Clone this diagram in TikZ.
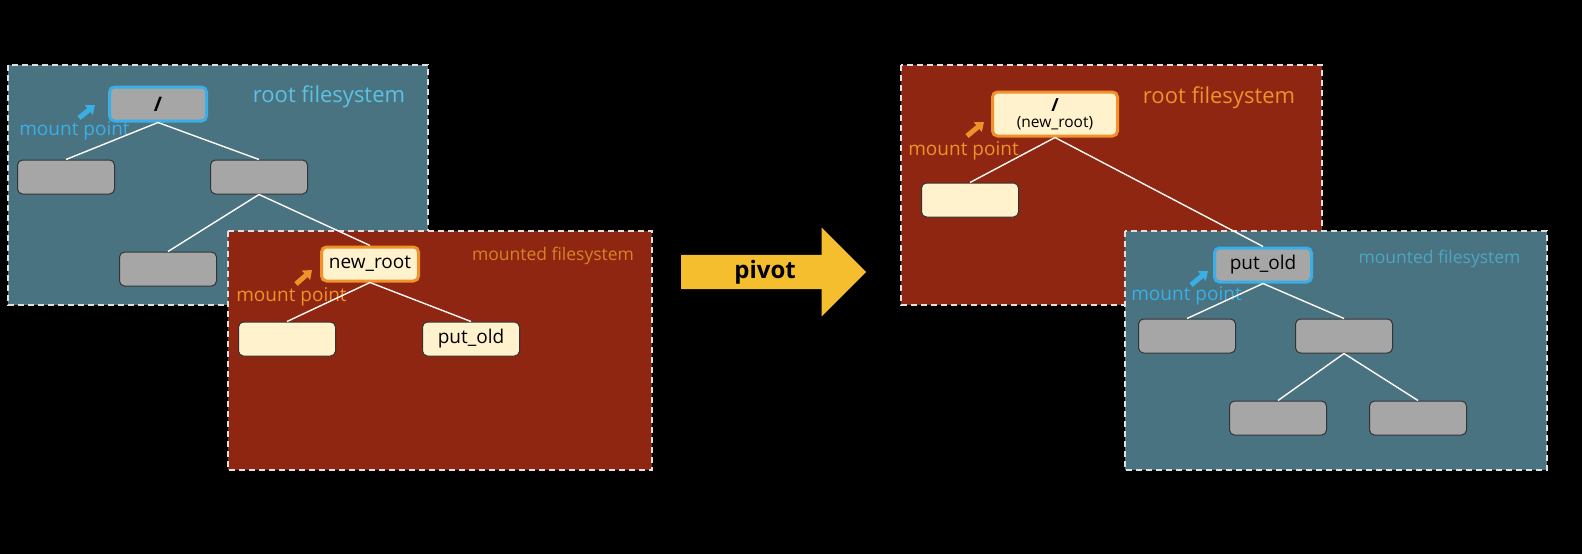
\documentclass[tikz,border=0pt]{standalone}
\usepackage{fontspec}
\setmainfont{Open Sans}
\usepackage{tikz}
\usetikzlibrary{positioning}
\usetikzlibrary{shapes.arrows}
\usetikzlibrary{arrows.meta}

\definecolor{panelblue}{HTML}{4A7382}
\definecolor{panelred}{HTML}{8E2612}
\definecolor{boxgray}{HTML}{A6A6A6}
\definecolor{boxcream}{HTML}{FFF2CC}
\definecolor{mountblue}{HTML}{3AAEE6}
\definecolor{mountorange}{HTML}{F0912A}
\definecolor{labelcyan}{HTML}{5CC2E2}
\definecolor{pivotyellow}{HTML}{F5BE2E}

\begin{document}
\begin{tikzpicture}[
                x=1pt, y=-1pt,
                >={Triangle[length=8pt, width=12pt]},
                % Define styles for panels and boxes
                panel/.style={draw=white!88!black, line width=1.3pt, dash pattern=on 6pt off 4pt},
                gray box/.style={rectangle, rounded corners=5pt, draw=black!80, line width=1pt, fill=boxgray, minimum width=97pt, minimum height=34pt, inner sep=2pt, font=\fontsize{19}{21}\selectfont},
                cream box/.style={gray box, fill=boxcream},
                blue mount/.style={gray box, draw=mountblue, line width=3pt},
                orange mount/.style={cream box, draw=mountorange, line width=3pt},
                branch/.style={draw=white!96!orange, line width=1.4pt},
                mark arrow/.style={->, line width=5pt},
                big label/.style={font=\fontsize{22}{24}\selectfont},
                small label/.style={font=\fontsize{17.5}{20}\selectfont},
                mount label/.style={font=\fontsize{19}{21}\selectfont}
            ]
                \fill[black] (0,0) rectangle (1582,554);
                \useasboundingbox (0,0) rectangle (1582,554);

                % Panels
                \draw[panel, fill=panelblue] (8,65) rectangle (428,305);
                \draw[panel, fill=panelred] (228,231) rectangle (652,470);
                \draw[panel, fill=panelred] (901,65) rectangle (1322,305);
                \draw[panel, fill=panelblue] (1125,231) rectangle (1547,470);

                % Before pivot
                \node[blue mount, font=\fontsize{20}{20}\bfseries] (root) at (158,104) {/};
                \node[gray box] (usr) at (66,177) {};
                \node[gray box] (mnt) at (259,177) {};
                \node[gray box] (mntold) at (168,269) {};
                \node[orange mount] (newroot) at (370,264) {new\_root};
                \node[cream box] (newbin) at (287,339) {};
                \node[cream box] (putold) at (471,339) {put\_old};

                \node[big label, text=labelcyan] (rootfs) at (329,97) {root filesystem};
                \node[small label, text=mountorange!90!black] (mountedfs) at (553,256) {mounted filesystem};
                \node[mount label, text=mountblue] (rootmp) at (74.5,131) {mount point};
                \node[mount label, text=mountorange] (newmp) at (291.5,297) {mount point};

                \coordinate (rootmpA) at (79,118);
                \coordinate (rootmpB) at (95,105);
                \coordinate (newmpA) at (296,284);
                \coordinate (newmpB) at (312,270);
                \draw[mark arrow, mountblue] (rootmpA) -- (rootmpB);
                \draw[mark arrow, mountorange] (newmpA) -- (newmpB);

                \draw[branch] (root.south) -- (usr.north);
                \draw[branch] (root.south) -- (mnt.north);
                \draw[branch] (mnt.south) -- (mntold.north);
                \draw[branch] (mnt.south) -- (newroot.north);
                \draw[branch] (newroot.south) -- (newbin.north);
                \draw[branch] (newroot.south) -- (putold.north);

                % Pivot arrow
                \node[single arrow, fill=pivotyellow, minimum height=185pt, minimum width=89pt,
                      single arrow head extend=22.5pt, inner sep=2pt, anchor=tail,
                      font=\fontsize{24}{26}\bfseries] (pivot) at (681,272) {pivot};

                % After pivot
                \node[orange mount, minimum width=125pt, minimum height=44pt, align=center,
                      inner sep=1pt, font=\fontsize{15.5}{16}\selectfont] (newtop) at (1055,114)
                      {{\fontsize{18}{18}\bfseries /}\\(new\_root)};
                \node[cream box] (topbin) at (970,200) {};
                \node[blue mount] (oldroot) at (1263,265) {put\_old};
                \node[gray box] (oldusr) at (1187,336) {};
                \node[gray box] (oldmnt) at (1344,336) {};
                \node[gray box] (oldleft) at (1278,418) {};
                \node[gray box] (oldright) at (1418,418) {};

                \node[big label, text=mountorange] (newfs) at (1219,98) {root filesystem};
                \node[small label, text=labelcyan!85!black] (oldfs) at (1439.5,259) {mounted filesystem};
                \node[mount label, text=mountorange] (topmp) at (963.5,151) {mount point};
                \node[mount label, text=mountblue] (oldmp) at (1186.5,296) {mount point};

                \coordinate (topmpA) at (967,136);
                \coordinate (topmpB) at (984,122);
                \coordinate (oldmpA) at (1191,285);
                \coordinate (oldmpB) at (1208,271);
                \draw[mark arrow, mountorange] (topmpA) -- (topmpB);
                \draw[mark arrow, mountblue] (oldmpA) -- (oldmpB);

                \draw[branch] (newtop.south) -- (topbin.north);
                \draw[branch] (newtop.south) -- (oldroot.north);
                \draw[branch] (oldroot.south) -- (oldusr.north);
                \draw[branch] (oldroot.south) -- (oldmnt.north);
                \draw[branch] (oldmnt.south) -- (oldleft.north);
                \draw[branch] (oldmnt.south) -- (oldright.north);
            \end{tikzpicture}
\end{document}
